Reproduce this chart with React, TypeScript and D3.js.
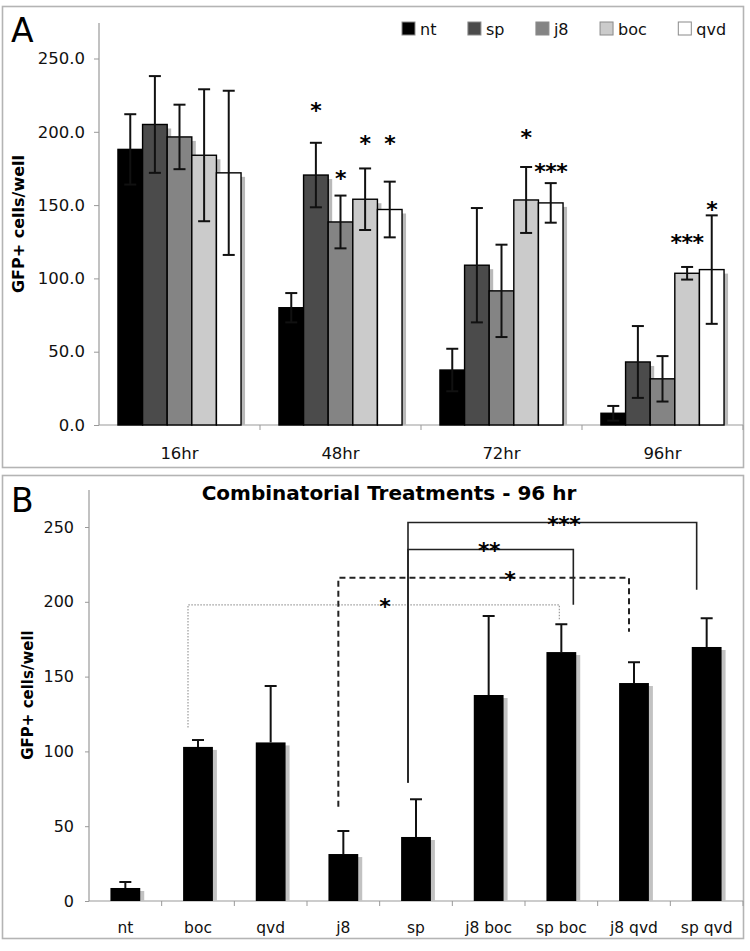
import { useEffect, useRef } from 'react'
import * as d3 from 'd3'

const FONT = '"DejaVu Sans", Verdana, sans-serif'

// Panel A: GFP+ cells per well over time, by treatment
const timepoints = ['16hr', '48hr', '72hr', '96hr']
const treatments = ['nt', 'sp', 'j8', 'boc', 'qvd']
const ntMean = [188, 80, 37.5, 8]
const spMean = [205, 170.5, 109, 43]
const j8Mean = [196.5, 138.5, 91.5, 31.5]
const bocMean = [184, 154, 153.5, 103.5]
const qvdMean = [172, 147, 151.5, 106]
const ntErr = [24, 10, 14.5, 5]
const spErr = [33, 22, 39, 24.5]
const j8Err = [22, 18, 31.5, 15.5]
const bocErr = [45, 21, 22.5, 4.3]
const qvdErr = [56, 19, 13.5, 37]
const yTicksA = [0, 50, 100, 150, 200, 250]

// significance marks over panel A bars (level = value where the mark sits)
const starTime = ['48hr', '48hr', '48hr', '48hr', '72hr', '72hr', '96hr', '96hr']
const starTreat = ['sp', 'j8', 'boc', 'qvd', 'boc', 'qvd', 'boc', 'qvd']
const starText = ['*', '*', '*', '*', '*', '***', '***', '*']
const starLevel = [218, 172, 196, 196, 200, 177, 128, 151]

// Panel B: combinatorial treatments at 96 hr
const combos = ['nt', 'boc', 'qvd', 'j8', 'sp', 'j8 boc', 'sp boc', 'j8 qvd', 'sp qvd']
const comboMean = [8.7, 103, 106, 31.4, 42.8, 137.7, 166.4, 145.7, 169.8]
const comboErr = [4, 4.6, 37.7, 15.4, 25.2, 52.8, 18.6, 13.9, 19.2]
const yTicksB = [0, 50, 100, 150, 200, 250]

// comparison brackets in panel B
const bracketFrom = ['boc', 'j8', 'sp', 'sp']
const bracketTo = ['sp boc', 'j8 qvd', 'sp boc', 'sp qvd']
const bracketLevel = [198, 216, 235, 253]
const bracketFromEnd = [116, 63, 79, 79]
const bracketToEnd = [188, 180, 198, 208]
const bracketText = ['*', '*', '**', '***']

const FILLS: Record<string, string> = {
  nt: '#000000',
  sp: '#4b4b4b',
  j8: '#848484',
  boc: '#cbcbcb',
  qvd: '#ffffff',
}

// bracket drawing: line style, x nudges, where the mark sits along the bar
const BRACKET_STYLE = [
  { stroke: '#9a9a9a', width: 1.2, dash: '1.5,1.5', dx1: -10, dx2: -2, t: 0.53 },
  { stroke: '#222', width: 2, dash: '6,4', dx1: -5, dx2: -5, t: 0.59 },
  { stroke: '#222', width: 1.6, dash: null, dx1: -8, dx2: 12, t: 0.49 },
  { stroke: '#222', width: 1.6, dash: null, dx1: -8, dx2: -10, t: 0.54 },
]

export default function App() {
  const ref = useRef<SVGSVGElement>(null)

  useEffect(() => {
    const svg = d3.select(ref.current)
    svg.selectAll('*').remove()

    const means: Record<string, number[]> = { nt: ntMean, sp: spMean, j8: j8Mean, boc: bocMean, qvd: qvdMean }
    const errs: Record<string, number[]> = { nt: ntErr, sp: spErr, j8: j8Err, boc: bocErr, qvd: qvdErr }

    // frames
    svg.append('rect').attr('x', 2.5).attr('y', 6.5).attr('width', 741).attr('height', 461)
      .attr('fill', 'none').attr('stroke', '#b4b4b4').attr('stroke-width', 1.6)
    svg.append('rect').attr('x', 2.5).attr('y', 475.5).attr('width', 741).attr('height', 463)
      .attr('fill', 'none').attr('stroke', '#b4b4b4').attr('stroke-width', 1.6)

    // ---------- panel A ----------
    const left = 99, right = 743, base = 425
    const x0 = d3.scaleBand().domain(timepoints).range([left, right])
    const x1 = d3.scaleBand().domain(treatments).range([0, x0.bandwidth()]).paddingOuter(0.77)
    const y = d3.scaleLinear().domain([0, 250]).range([base, 58.5])

    const gA = svg.append('g')

    gA.append('text').attr('x', 11).attr('y', 42).attr('font-family', FONT).attr('font-size', 33).text('A')

    const yAxis = gA.append('g').attr('transform', `translate(${left},0)`)
      .call(d3.axisLeft(y).tickValues(yTicksA).tickFormat(d3.format('.1f')).tickSize(5).tickSizeOuter(0).tickPadding(9))
    yAxis.select('.domain').remove()
    yAxis.selectAll('line').attr('stroke', '#999')
    yAxis.selectAll('text').attr('font-family', FONT).attr('font-size', 16.5).attr('fill', '#111')
    gA.append('line').attr('x1', left).attr('x2', left).attr('y1', 23).attr('y2', base).attr('stroke', '#999').attr('stroke-width', 1.2)
    gA.append('line').attr('x1', left).attr('x2', right).attr('y1', base).attr('y2', base).attr('stroke', '#999').attr('stroke-width', 1.2)
    timepoints.forEach((t) => {
      const xe = (x0(t) as number) + x0.bandwidth()
      gA.append('line').attr('x1', xe).attr('x2', xe).attr('y1', base).attr('y2', base + 5).attr('stroke', '#999')
      gA.append('text').attr('x', (x0(t) as number) + x0.bandwidth() / 2).attr('y', 459)
        .attr('text-anchor', 'middle').attr('font-family', FONT).attr('font-size', 16.5).attr('fill', '#111').text(t)
    })

    gA.append('text')
      .attr('transform', `translate(24,224) rotate(-90)`)
      .attr('text-anchor', 'middle').attr('font-family', FONT).attr('font-weight', 'bold').attr('font-size', 16)
      .text('GFP+ cells/well')

    const bw = x1.bandwidth()
    timepoints.forEach((t, i) => {
      treatments.forEach((s) => {
        const bx = (x0(t) as number) + (x1(s) as number)
        const by = y(means[s][i])
        gA.append('rect').attr('x', bx + 4).attr('y', by + 4).attr('width', bw).attr('height', Math.max(0, base - by - 4))
          .attr('fill', '#b9b9b9')
        gA.append('rect').attr('x', bx).attr('y', by).attr('width', bw).attr('height', base - by)
          .attr('fill', FILLS[s]).attr('stroke', '#000').attr('stroke-width', 1.4)
      })
    })
    timepoints.forEach((t, i) => {
      treatments.forEach((s) => {
        const cx = (x0(t) as number) + (x1(s) as number) + bw / 2
        const hi = y(means[s][i] + errs[s][i])
        const lo = y(Math.max(0, means[s][i] - errs[s][i]))
        const eb = gA.append('g').attr('stroke', '#111').attr('stroke-width', 2)
        eb.append('line').attr('x1', cx).attr('x2', cx).attr('y1', hi).attr('y2', lo)
        eb.append('line').attr('x1', cx - 6).attr('x2', cx + 6).attr('y1', hi).attr('y2', hi)
        eb.append('line').attr('x1', cx - 6).attr('x2', cx + 6).attr('y1', lo).attr('y2', lo)
      })
    })
    starText.forEach((txt, k) => {
      const cx = (x0(starTime[k]) as number) + (x1(starTreat[k]) as number) + bw / 2
      gA.append('text').attr('x', cx).attr('y', y(starLevel[k]) + 13)
        .attr('text-anchor', 'middle').attr('font-family', FONT).attr('font-weight', 'bold').attr('font-size', 22)
        .attr('letter-spacing', -0.5).text(txt)
    })

    // legend
    let lx = 402
    treatments.forEach((s) => {
      gA.append('rect').attr('x', lx).attr('y', 22).attr('width', 13).attr('height', 13)
        .attr('fill', FILLS[s]).attr('stroke', '#8a8a8a').attr('stroke-width', 1)
      const tx = gA.append('text').attr('x', lx + 18).attr('y', 35).attr('font-family', FONT).attr('font-size', 16)
        .attr('fill', '#111').text(s)
      const tw = (tx.node() as SVGTextElement).getComputedTextLength()
      lx = lx + 18 + tw + 31.5
    })

    // ---------- panel B ----------
    const leftB = 89, baseB = 901
    const xb = d3.scaleBand().domain(combos).range([leftB, right]).paddingInner(0.59).paddingOuter(0.295)
    const yb = d3.scaleLinear().domain([0, 250]).range([baseB, 527])
    const gB = svg.append('g')

    gB.append('text').attr('x', 11).attr('y', 512).attr('font-family', FONT).attr('font-size', 33).text('B')
    gB.append('text').attr('x', 389).attr('y', 500).attr('text-anchor', 'middle')
      .attr('font-family', FONT).attr('font-weight', 'bold').attr('font-size', 20).text('Combinatorial Treatments - 96 hr')

    const yAxisB = gB.append('g').attr('transform', `translate(${leftB},0)`)
      .call(d3.axisLeft(yb).tickValues(yTicksB).tickFormat(d3.format('d')).tickSize(4).tickSizeOuter(0).tickPadding(11))
    yAxisB.select('.domain').remove()
    yAxisB.selectAll('line').attr('stroke', '#999')
    yAxisB.selectAll('text').attr('font-family', FONT).attr('font-size', 16).attr('fill', '#111')
    gB.append('line').attr('x1', leftB).attr('x2', leftB).attr('y1', 490).attr('y2', baseB).attr('stroke', '#999').attr('stroke-width', 1.2)
    gB.append('line').attr('x1', leftB).attr('x2', right).attr('y1', baseB).attr('y2', baseB).attr('stroke', '#999').attr('stroke-width', 1.2)
    combos.forEach((c, i) => {
      const xe = leftB + (i + 1) * xb.step()
      gB.append('line').attr('x1', xe).attr('x2', xe).attr('y1', baseB).attr('y2', baseB + 5).attr('stroke', '#999')
      gB.append('text').attr('x', (xb(c) as number) + xb.bandwidth() / 2).attr('y', 933)
        .attr('text-anchor', 'middle').attr('font-family', FONT).attr('font-size', 15.5).attr('fill', '#111').text(c)
    })

    gB.append('text')
      .attr('transform', `translate(33,695) rotate(-90)`)
      .attr('text-anchor', 'middle').attr('font-family', FONT).attr('font-weight', 'bold').attr('font-size', 15)
      .text('GFP+ cells/well')

    const bwB = xb.bandwidth()
    combos.forEach((c, i) => {
      const bx = xb(c) as number
      const by = yb(comboMean[i])
      gB.append('rect').attr('x', bx + 4).attr('y', by + 3).attr('width', bwB).attr('height', Math.max(0, baseB - by - 3))
        .attr('fill', '#c2c2c2')
      gB.append('rect').attr('x', bx).attr('y', by).attr('width', bwB).attr('height', baseB - by).attr('fill', '#000')
    })
    combos.forEach((c, i) => {
      const cx = (xb(c) as number) + bwB / 2
      const hi = yb(comboMean[i] + comboErr[i])
      const lo = yb(comboMean[i])
      const eb = gB.append('g').attr('stroke', '#111').attr('stroke-width', 2)
      eb.append('line').attr('x1', cx).attr('x2', cx).attr('y1', hi).attr('y2', lo)
      eb.append('line').attr('x1', cx - 6).attr('x2', cx + 6).attr('y1', hi).attr('y2', hi)
    })

    bracketText.forEach((txt, k) => {
      const st = BRACKET_STYLE[k]
      const xa = (xb(bracketFrom[k]) as number) + bwB / 2 + st.dx1
      const xz = (xb(bracketTo[k]) as number) + bwB / 2 + st.dx2
      const path = d3.path()
      path.moveTo(xa, yb(bracketFromEnd[k]))
      path.lineTo(xa, yb(bracketLevel[k]))
      path.lineTo(xz, yb(bracketLevel[k]))
      path.lineTo(xz, yb(bracketToEnd[k]))
      gB.append('path').attr('d', path.toString()).attr('fill', 'none')
        .attr('stroke', st.stroke).attr('stroke-width', st.width).attr('stroke-dasharray', st.dash)
      gB.append('text').attr('x', xa + (xz - xa) * st.t).attr('y', yb(bracketLevel[k]) + 9)
        .attr('text-anchor', 'middle').attr('font-family', FONT).attr('font-weight', 'bold').attr('font-size', 22)
        .attr('letter-spacing', -0.5).text(txt)
    })
  }, [])

  return (
    <svg ref={ref} width={750} height={951} viewBox="0 0 750 951"
      style={{ position: 'absolute', left: 0, top: 0, background: '#fff' }} />
  )
}
